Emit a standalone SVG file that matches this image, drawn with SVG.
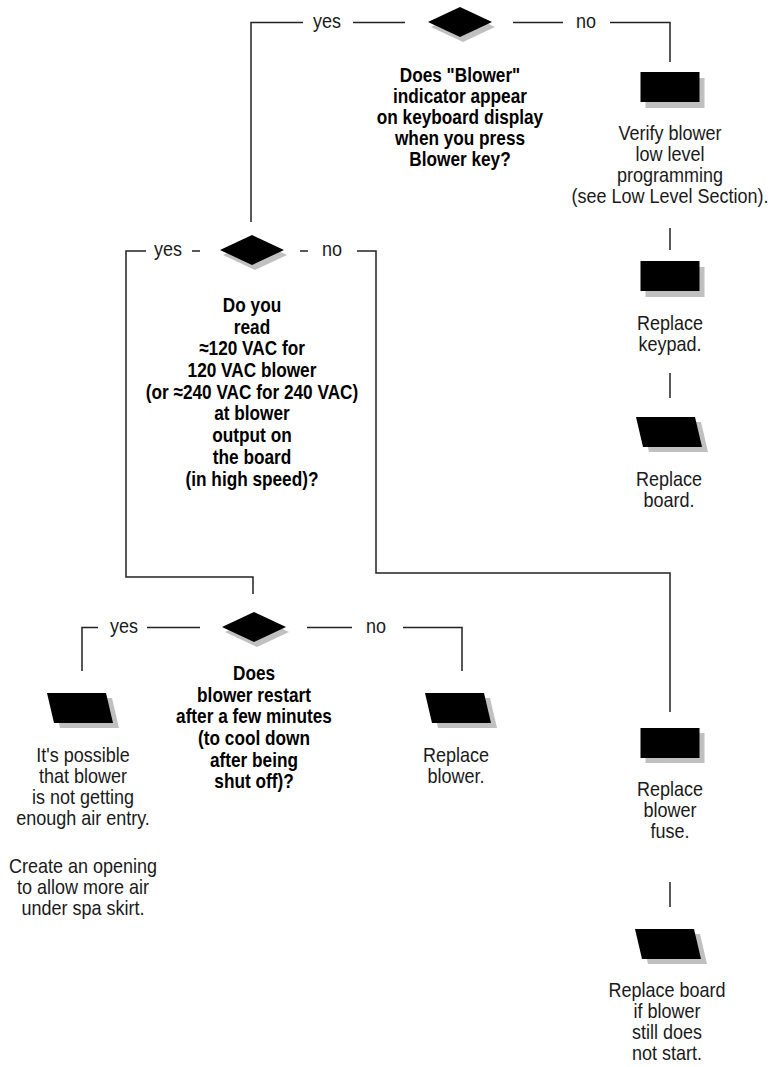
<svg xmlns="http://www.w3.org/2000/svg" xmlns:xlink="http://www.w3.org/1999/xlink" width="775" height="1067" viewBox="0 0 775 1067">
<style>
.ln{stroke:#222;stroke-width:1.5;fill:none}
.q{font-family:"Liberation Sans",Arial,sans-serif;font-weight:bold;font-size:21px;text-anchor:middle;fill:#000}
.t{font-family:"Liberation Sans",Arial,sans-serif;font-size:20px;text-anchor:middle;fill:#1a1a1a}
.sh{fill:#c0c0c0}
.bk{fill:#000}
</style>
<defs>
<polygon id="dia" points="-32,0 0,-15 32,0 0,15"/>
<rect id="box" x="0" y="0" width="59" height="30"/>
<polygon id="par" points="0,0 59,0 66,30 7,30"/>
</defs>
<rect width="775" height="1067" fill="#fff"/>

<g id="connectors">
<path class="ln" d="M251,222 V22.5 H303"/>
<path class="ln" d="M353,22.5 H405"/>
<path class="ln" d="M513,22.5 H563"/>
<path class="ln" d="M610,22.5 H670 V62"/>
<path class="ln" d="M670,228 V250"/>
<path class="ln" d="M670,373 V398"/>
<path class="ln" d="M253,594 V577 H126 V251 H146"/>
<path class="ln" d="M192,251 H200"/>
<path class="ln" d="M300,251 H308"/>
<path class="ln" d="M357,251 H376 V573 H670 V712"/>
<path class="ln" d="M82,671 V627.5 H98"/>
<path class="ln" d="M147,627.5 H200"/>
<path class="ln" d="M307,627.5 H352"/>
<path class="ln" d="M403,627.5 H462 V671"/>
<path class="ln" d="M670,882 V907"/>
<g transform="translate(327,0) scale(0.9,1)"><text class="t" x="0" y="28">yes</text></g>
<g transform="translate(586,0) scale(0.9,1)"><text class="t" x="0" y="28">no</text></g>
<g transform="translate(168,0) scale(0.9,1)"><text class="t" x="0" y="256">yes</text></g>
<g transform="translate(332,0) scale(0.9,1)"><text class="t" x="0" y="256">no</text></g>
<g transform="translate(124,0) scale(0.9,1)"><text class="t" x="0" y="633">yes</text></g>
<g transform="translate(376,0) scale(0.9,1)"><text class="t" x="0" y="633">no</text></g>
</g>

<g id="decision1">
<use xlink:href="#dia" x="463" y="27" class="sh"/>
<use xlink:href="#dia" x="460" y="22" class="bk"/>
<g transform="translate(460,0) scale(0.82,1)">
<text class="q" x="0" y="82">Does "Blower"</text>
<text class="q" x="0" y="103">indicator appear</text>
<text class="q" x="0" y="124">on keyboard display</text>
<text class="q" x="0" y="145">when you press</text>
<text class="q" x="0" y="166">Blower key?</text>
</g>
</g>

<g id="verify">
<use xlink:href="#box" x="645.5" y="78" class="sh"/>
<use xlink:href="#box" x="640.5" y="72" class="bk"/>
<g transform="translate(670,0) scale(0.9,1)">
<text class="t" x="0" y="140">Verify blower</text>
<text class="t" x="0" y="161">low level</text>
<text class="t" x="0" y="182">programming</text>
<text class="t" x="0" y="203">(see Low Level Section).</text>
</g>
</g>

<g id="keypad">
<use xlink:href="#box" x="645.5" y="267" class="sh"/>
<use xlink:href="#box" x="640.5" y="261" class="bk"/>
<g transform="translate(670,0) scale(0.9,1)">
<text class="t" x="0" y="330">Replace</text>
<text class="t" x="0" y="351">keypad.</text>
</g>
</g>

<g id="board1">
<use xlink:href="#par" x="642" y="422" class="sh"/>
<use xlink:href="#par" x="636" y="417" class="bk"/>
<g transform="translate(669,0) scale(0.9,1)">
<text class="t" x="0" y="486">Replace</text>
<text class="t" x="0" y="507">board.</text>
</g>
</g>

<g id="decision2">
<use xlink:href="#dia" x="255" y="255" class="sh"/>
<use xlink:href="#dia" x="252" y="250" class="bk"/>
<g transform="translate(252,0) scale(0.82,1)">
<text class="q" x="0" y="312">Do you</text>
<text class="q" x="0" y="333.7">read</text>
<text class="q" x="0" y="355.4">≈120 VAC for</text>
<text class="q" x="0" y="377.1">120 VAC blower</text>
<text class="q" x="0" y="398.8">(or ≈240 VAC for 240 VAC)</text>
<text class="q" x="0" y="420.5">at blower</text>
<text class="q" x="0" y="442.2">output on</text>
<text class="q" x="0" y="463.9">the board</text>
<text class="q" x="0" y="485.6">(in high speed)?</text>
</g>
</g>

<g id="decision3">
<use xlink:href="#dia" x="257" y="632" class="sh"/>
<use xlink:href="#dia" x="254" y="627" class="bk"/>
<g transform="translate(254,0) scale(0.82,1)">
<text class="q" x="0" y="680">Does</text>
<text class="q" x="0" y="701.7">blower restart</text>
<text class="q" x="0" y="723.4">after a few minutes</text>
<text class="q" x="0" y="745.1">(to cool down</text>
<text class="q" x="0" y="766.8">after being</text>
<text class="q" x="0" y="788.5">shut off)?</text>
</g>
</g>

<g id="airentry">
<use xlink:href="#par" x="53" y="698" class="sh"/>
<use xlink:href="#par" x="47" y="693" class="bk"/>
<g transform="translate(83,0) scale(0.9,1)">
<text class="t" x="0" y="762">It's possible</text>
<text class="t" x="0" y="783">that blower</text>
<text class="t" x="0" y="804">is not getting</text>
<text class="t" x="0" y="825">enough air entry.</text>
<text class="t" x="0" y="873">Create an opening</text>
<text class="t" x="0" y="894">to allow more air</text>
<text class="t" x="0" y="915">under spa skirt.</text>
</g>
</g>

<g id="blower">
<use xlink:href="#par" x="431" y="698" class="sh"/>
<use xlink:href="#par" x="425" y="693" class="bk"/>
<g transform="translate(456,0) scale(0.9,1)">
<text class="t" x="0" y="762">Replace</text>
<text class="t" x="0" y="783">blower.</text>
</g>
</g>

<g id="fuse">
<use xlink:href="#box" x="645.5" y="733" class="sh"/>
<use xlink:href="#box" x="640.5" y="728" class="bk"/>
<g transform="translate(670,0) scale(0.9,1)">
<text class="t" x="0" y="796">Replace</text>
<text class="t" x="0" y="817">blower</text>
<text class="t" x="0" y="838">fuse.</text>
</g>
</g>

<g id="board2">
<use xlink:href="#par" x="641" y="934" class="sh"/>
<use xlink:href="#par" x="635" y="929" class="bk"/>
<g transform="translate(667,0) scale(0.9,1)">
<text class="t" x="0" y="997">Replace board</text>
<text class="t" x="0" y="1018">if blower</text>
<text class="t" x="0" y="1039">still does</text>
<text class="t" x="0" y="1060">not start.</text>
</g>
</g>
</svg>
